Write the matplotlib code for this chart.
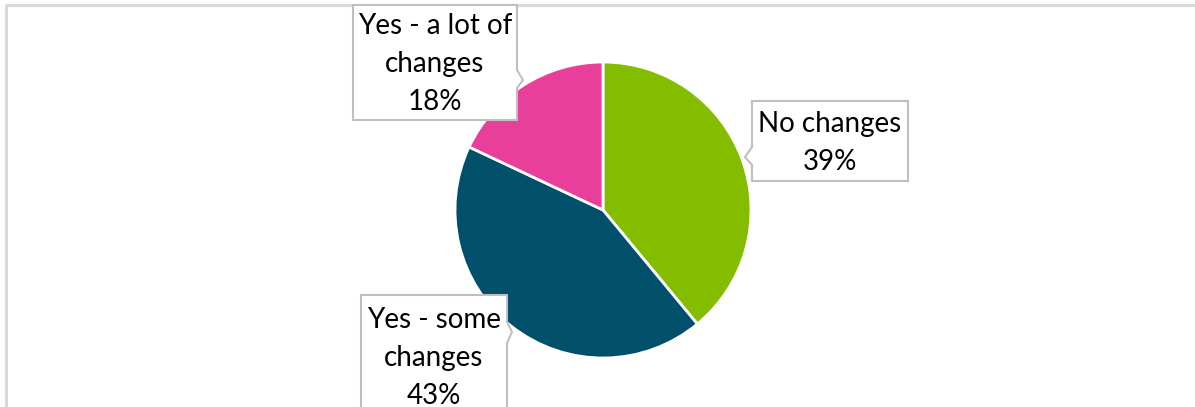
import matplotlib.pyplot as plt
from matplotlib.patches import Polygon

# data
labels = ['No changes', 'Yes - some changes', 'Yes - a lot of changes']
label_lines = ['No changes', 'Yes - some\nchanges', 'Yes - a lot of\nchanges']
values = [39, 43, 18]
colors = ['#84BD00', '#00506B', '#E8409A']

W, H = 1195, 407
fig = plt.figure(figsize=(W / 100, H / 100), dpi=100)
ax = fig.add_axes([0, 0, 1, 1])

def py(y):
    '''pixel row (top-down) -> axes y'''
    return H - y

ax.pie(values, colors=colors, startangle=90, counterclock=False,
       center=(603, py(210)), radius=148,
       wedgeprops=dict(edgecolor='white', linewidth=2))
ax.set_xlim(0, W)
ax.set_ylim(0, H)
ax.set_aspect('equal')
ax.axis('off')

# chart border (top and left visible)
ax.plot([6.5, 6.5, W], [0, py(4.5), py(4.5)], color='#D9D9D9', lw=2.2, clip_on=False)

# callout boxes: rect (x0, y0, x1, y1) + pointer side
def callout(x0, y0, x1, y1, side, p0, tip, p1):
    if side == 'left':
        pts = [(x0, y0), (x1, y0), (x1, y1), (x0, y1), (x0, p1), tip, (x0, p0)]
    else:
        pts = [(x0, y0), (x1, y0), (x1, p0), tip, (x1, p1), (x1, y1), (x0, y1)]
    pts = [(x, py(y)) for x, y in pts]
    ax.add_patch(Polygon(pts, closed=True, facecolor='white', edgecolor='#BFBFBF', lw=1.5, zorder=3))

callout(752, 101, 908, 181, 'left', 147, (745, 157), 165)
callout(353, 5, 517, 120, 'right', 70, (523, 80), 88)
callout(361, 295, 507, 420, 'right', 322, (512, 332), 343)

text_pos = [(830, 143), (434, 358), (435, 64)]
for name, v, (tx, ty) in zip(label_lines, values, text_pos):
    ax.text(tx, py(ty), f'{name}\n{v}%', ha='center', va='center', fontsize=20,
            family='Lato', linespacing=1.55, color='black', zorder=4)

fig.savefig('out.png', dpi=100)
